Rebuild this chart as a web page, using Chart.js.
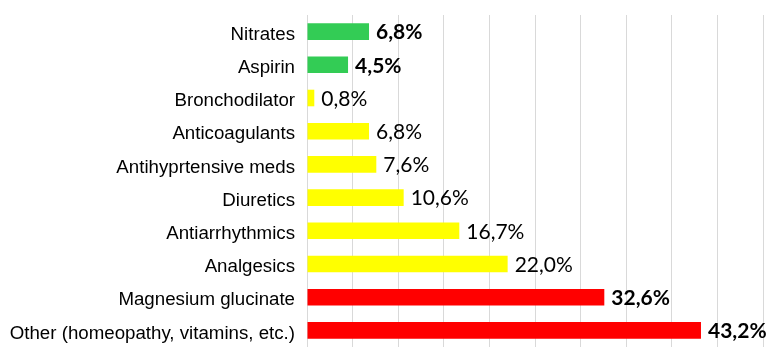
<!DOCTYPE html>
<html>
<head>
<meta charset="utf-8">
<script src="https://cdn.jsdelivr.net/npm/chart.js@4/dist/chart.umd.min.js"></script>
<style>
  html, body { margin: 0; padding: 0; background: #fff; }
  #wrap { width: 778px; height: 361px; }
</style>
</head>
<body>
<div id="wrap"><canvas id="myChart"></canvas></div>
<script>
// DATA
const categories = [
    "Nitrates",
    "Aspirin",
    "Bronchodilator",
    "Anticoagulants",
    "Antihyprtensive meds",
    "Diuretics",
    "Antiarrhythmics",
    "Analgesics",
    "Magnesium glucinate",
    "Other (homeopathy, vitamins, etc.)",
];
const shares = [6.8, 4.5, 0.8, 6.8, 7.6, 10.6, 16.7, 22.0, 32.6, 43.2];
const barColors = [
    "#33cc55", "#33cc55",
    "#ffff00", "#ffff00", "#ffff00", "#ffff00", "#ffff00", "#ffff00",
    "#ff0000", "#ff0000",
];
const boldLabel = [true, true, false, false, false, false, false, false, true, true];

// value labels at the end of each bar
const valueLabels = {
    id: "valueLabels",
    afterDatasetsDraw(chart) {
        const ctx = chart.ctx;
        const meta = chart.getDatasetMeta(0);
        ctx.save();
        ctx.fillStyle = "#000";
        ctx.textBaseline = "middle";
        ctx.textAlign = "left";
        meta.data.forEach((bar, i) => {
            const txt = shares[i].toFixed(1).replace(".", ",") + "%";
            ctx.font = (boldLabel[i] ? "bold " : "") + "21px Lato";
            ctx.fillText(txt, bar.x + 7, bar.y + 1);
        });
        ctx.restore();
    },
};

// CONFIG
const config = {
    type: "bar",
    data: {
        labels: categories,
        datasets: [
            {
                data: shares,
                backgroundColor: barColors,
                barPercentage: 1,
                categoryPercentage: 0.5,
            },
        ],
    },
    options: {
        indexAxis: "y",
        responsive: true,
        maintainAspectRatio: false,
        animation: false,
        layout: {
            padding: { left: 0, right: 15, top: 15, bottom: 14 },
        },
        scales: {
            x: {
                min: 0,
                max: 50,
                ticks: { display: false, stepSize: 5 },
                grid: { color: "#d9d9d9", drawTicks: false },
                border: { display: false },
            },
            y: {
                ticks: {
                    color: "#000",
                    font: { family: "'Liberation Sans', Arial", size: 18.7 },
                    padding: 4,
                    labelOffset: 3,
                },
                grid: { display: false },
                border: { display: false },
                afterFit(scale) {
                    scale.width = 307;
                    scale.paddingTop = 0;
                    scale.paddingBottom = 0;
                },
            },
        },
        plugins: {
            legend: { display: false },
            tooltip: { enabled: false },
        },
    },
    plugins: [valueLabels],
};

const myChart = new Chart(document.getElementById("myChart"), config);
</script>
</body>
</html>
